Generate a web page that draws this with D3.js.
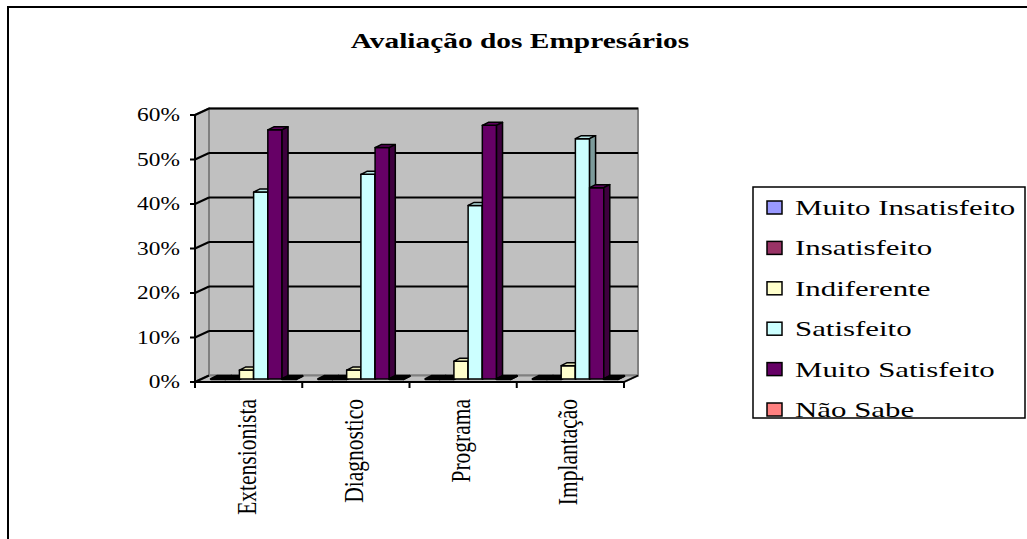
<!DOCTYPE html>
<html>
<head>
<meta charset="utf-8">
<script src="https://cdn.jsdelivr.net/npm/d3@7"></script>
<style>
  body { margin: 0; background: #fff; }
  text { font-family: "Liberation Serif", "Times New Roman", serif; fill: #000; }
</style>
</head>
<body>
<div id="chart"></div>
<script>
// data (percent)
var categories = ["Extensionista", "Diagnostico", "Programa", "Implantação"];
var seriesNames = ["Muito Insatisfeito", "Insatisfeito", "Indiferente", "Satisfeito", "Muito Satisfeito", "Não Sabe"];
var muitoInsatisfeito = [0, 0, 0, 0];
var insatisfeito = [0, 0, 0, 0];
var indiferente = [2, 2, 4, 3];
var satisfeito = [42, 46, 39, 54];
var muitoSatisfeito = [56, 52, 57, 43];
var naoSabe = [0, 0, 0, 0];
var yTicks = [0, 10, 20, 30, 40, 50, 60];
var colors = ["#9999ff", "#993366", "#ffffcc", "#ccffff", "#660066", "#ff8080"];

var seriesValues = [muitoInsatisfeito, insatisfeito, indiferente, satisfeito, muitoSatisfeito, naoSabe];

var svgWidth = 1027;
var svgHeight = 539;

var svg = d3.select("#chart")
  .append("svg").attr("width", svgWidth).attr("height", svgHeight);

// outer chart border (runs off the right and bottom edges)
svg.append("rect")
  .attr("x", 8).attr("y", 7)
  .attr("width", 1040).attr("height", 560)
  .attr("fill", "#fff").attr("stroke", "#000").attr("stroke-width", 2);

// title
svg.append("text")
  .attr("transform", "translate(520,48) scale(1.4,1)")
  .attr("text-anchor", "middle")
  .attr("font-weight", "bold")
  .attr("font-size", 21)
  .text("Avaliação dos Empresários");

// 3D plot geometry
var x0 = 195, x1 = 624;
var depthX = 14, depthY = -6.5;

var xScale = d3.scaleBand().domain(categories).range([x0, x1]).padding(0);
var yScale = d3.scaleLinear().domain([0, 60]).range([382, 115]);

var wallFill = "#c0c0c0", wallEdge = "#808080";

var plot = svg.append("g");

// back wall
plot.append("rect")
  .attr("x", x0 + depthX).attr("y", yScale(60) + depthY)
  .attr("width", x1 - x0).attr("height", yScale(0) - yScale(60))
  .attr("fill", wallFill).attr("stroke", wallEdge).attr("stroke-width", 2);

// side wall
plot.append("polygon")
  .attr("points", [
    [x0, yScale(0)], [x0, yScale(60)],
    [x0 + depthX, yScale(60) + depthY], [x0 + depthX, yScale(0) + depthY]
  ].join(" "))
  .attr("fill", wallFill).attr("stroke", wallEdge).attr("stroke-width", 2);

// floor
plot.append("polygon")
  .attr("points", [
    [x0, yScale(0)], [x1, yScale(0)],
    [x1 + depthX, yScale(0) + depthY], [x0 + depthX, yScale(0) + depthY]
  ].join(" "))
  .attr("fill", wallFill).attr("stroke", wallEdge).attr("stroke-width", 2);

// gridlines on back wall + diagonal on side wall
yTicks.forEach(function(t) {
  var y = yScale(t);
  if (t > 0) {
    plot.append("line")
      .attr("x1", x0 + depthX).attr("x2", x1 + depthX)
      .attr("y1", y + depthY).attr("y2", y + depthY)
      .attr("stroke", "#000").attr("stroke-width", 2);
  }
  plot.append("line")
    .attr("x1", x0).attr("x2", x0 + depthX)
    .attr("y1", y).attr("y2", y + depthY)
    .attr("stroke", "#000").attr("stroke-width", 2);
  // tick on the front axis
  plot.append("line")
    .attr("x1", x0 - 5).attr("x2", x0)
    .attr("y1", y).attr("y2", y)
    .attr("stroke", "#000").attr("stroke-width", 2);
  svg.append("text")
    .attr("transform", "translate(180," + (y + 6) + ") scale(1.3,1)")
    .attr("text-anchor", "end")
    .attr("font-size", 18)
    .text(t + "%");
});

// bars
var gap = 22;
var xSeries = d3.scaleBand().domain(d3.range(seriesNames.length))
  .range([gap / 2, xScale.bandwidth() - gap / 2]).padding(0);
var bw = xSeries.bandwidth();
var offX = 5, offY = -3;   // bar front face inside the depth
var bdx = 6, bdy = -3;      // bar depth

categories.forEach(function(cat, ci) {
  seriesValues.forEach(function(vals, si) {
    var v = vals[ci];
    var bx = xScale(cat) + xSeries(si) + offX;
    var yt = yScale(v) + offY;
    var yb = yScale(0) + offY;
    var c = d3.color(colors[si]);
    var g = plot.append("g").attr("stroke", "#000")
      .attr("stroke-width", v === 0 ? 2.5 : 1.5)
      .attr("stroke-linejoin", "round");
    g.append("rect")
      .attr("x", bx).attr("y", yt)
      .attr("width", bw).attr("height", yb - yt)
      .attr("fill", c.formatHex());
    g.append("polygon")
      .attr("points", [[bx, yt], [bx + bw, yt], [bx + bw + bdx, yt + bdy], [bx + bdx, yt + bdy]].join(" "))
      .attr("fill", v === 0 ? "#000" : c.darker(0.3).formatHex());
    g.append("polygon")
      .attr("points", [[bx + bw, yt], [bx + bw + bdx, yt + bdy], [bx + bw + bdx, yb + bdy], [bx + bw, yb]].join(" "))
      .attr("fill", c.darker(1.4).formatHex());
  });
});

// front axes
plot.append("line")
  .attr("x1", x0).attr("x2", x0)
  .attr("y1", yScale(60)).attr("y2", yScale(0))
  .attr("stroke", "#000").attr("stroke-width", 2);
plot.append("line")
  .attr("x1", x0).attr("x2", x1)
  .attr("y1", yScale(0)).attr("y2", yScale(0))
  .attr("stroke", "#000").attr("stroke-width", 2);
plot.append("line")
  .attr("x1", x1).attr("x2", x1 + depthX)
  .attr("y1", yScale(0)).attr("y2", yScale(0) + depthY)
  .attr("stroke", "#000").attr("stroke-width", 1.5);
categories.concat([null]).forEach(function(cat, i) {
  var x = x0 + i * xScale.bandwidth();
  plot.append("line")
    .attr("x1", x).attr("x2", x)
    .attr("y1", yScale(0)).attr("y2", yScale(0) + 6)
    .attr("stroke", "#000").attr("stroke-width", 2);
});

// category labels, rotated
categories.forEach(function(cat) {
  var cx = xScale(cat) + xScale.bandwidth() / 2 + 7;
  svg.append("text")
    .attr("transform", "translate(" + cx + ",399) scale(1.3,1) rotate(-90)")
    .attr("text-anchor", "end")
    .attr("font-size", 21.5)
    .text(cat);
});

// legend
var legend = svg.append("g");
legend.append("rect")
  .attr("x", 753).attr("y", 187)
  .attr("width", 272).attr("height", 231)
  .attr("fill", "#fff").attr("stroke", "#000").attr("stroke-width", 1.5);

seriesNames.forEach(function(name, i) {
  var cy = 208 + i * 40.4;
  legend.append("rect")
    .attr("x", 767).attr("y", cy - 7)
    .attr("width", 15).attr("height", 13)
    .attr("fill", colors[i]).attr("stroke", "#000").attr("stroke-width", 1.5);
  legend.append("text")
    .attr("transform", "translate(795," + (cy + 7) + ") scale(1.47,1)")
    .attr("font-size", 21)
    .text(name);
});
</script>
</body>
</html>
